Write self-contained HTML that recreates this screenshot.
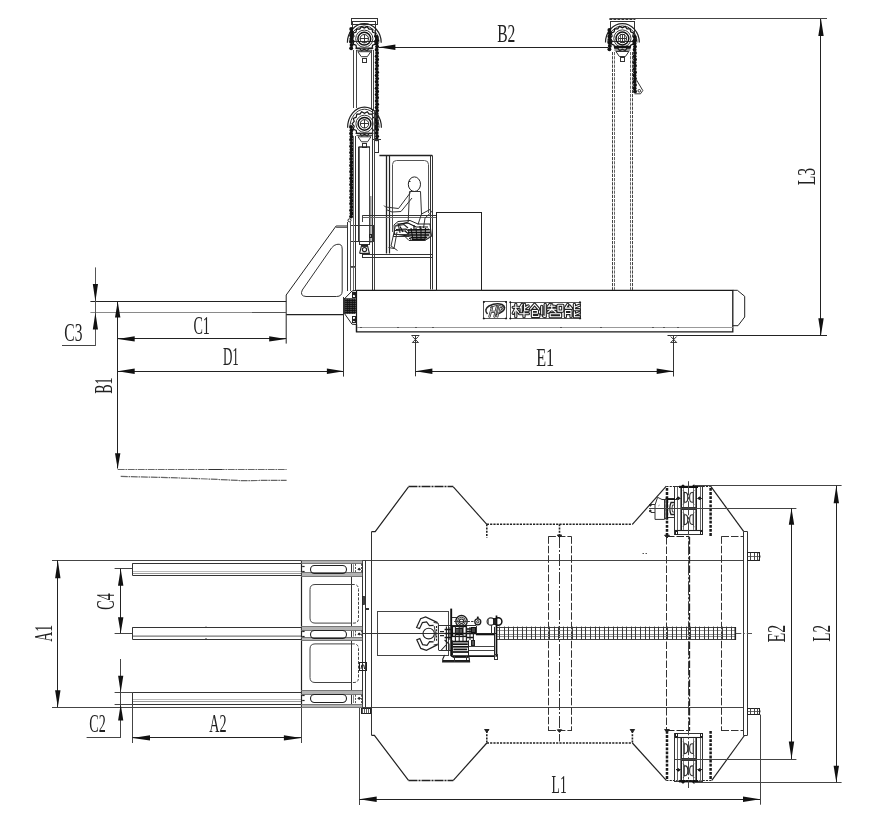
<!DOCTYPE html>
<html><head><meta charset="utf-8"><title>drawing</title>
<style>
html,body{margin:0;padding:0;background:#fff;}
body{width:873px;height:826px;overflow:hidden;font-family:"Liberation Serif",serif;}
svg{display:block;font-family:"Liberation Serif",serif;}
</style></head><body>
<svg width="873" height="826" viewBox="0 0 873 826">
<rect x="0" y="0" width="873" height="826" fill="#fff"/>
<g opacity="0.999">
<line x1="379.0" y1="47.5" x2="608.0" y2="47.5" stroke="#222" stroke-width="1"/>
<polygon points="378.4,47.2 395.4,44.5 395.4,49.9" fill="#111" stroke="none"/>
<text x="497.2" y="41.8" font-size="24.4" textLength="18.2" lengthAdjust="spacingAndGlyphs" fill="#222">B2</text>
<line x1="609.4" y1="18.5" x2="827.0" y2="18.5" stroke="#444" stroke-width="1"/>
<line x1="820.5" y1="19.0" x2="820.5" y2="335.3" stroke="#222" stroke-width="1"/>
<polygon points="821.0,19.0 818.3,36.0 823.7,36.0" fill="#111" stroke="none"/>
<polygon points="821.0,335.3 818.3,318.3 823.7,318.3" fill="#111" stroke="none"/>
<text transform="translate(814.5,185.2) rotate(-90)" x="0" y="0" font-size="24.4" textLength="17.4" lengthAdjust="spacingAndGlyphs" fill="#222">L3</text>
<line x1="667.5" y1="335.5" x2="827.0" y2="335.5" stroke="#222" stroke-width="1"/>
<line x1="353.5" y1="50.0" x2="353.5" y2="108.0" stroke="#444" stroke-width="1"/>
<line x1="356.5" y1="50.0" x2="356.5" y2="108.0" stroke="#444" stroke-width="1"/>
<line x1="371.5" y1="50.0" x2="371.5" y2="110.0" stroke="#444" stroke-width="1"/>
<line x1="373.5" y1="50.0" x2="373.5" y2="110.0" stroke="#444" stroke-width="1"/>
<rect x="351.5" y="18.5" width="26.0" height="6.0" fill="none" stroke="#333" stroke-width="1"/>
<rect x="352.5" y="21.5" width="23.0" height="20.0" fill="none" stroke="#333" stroke-width="1"/>
<path d="M347.4,42.7 A16.9,19.0 0 0 1 381.2,42.7" fill="none" stroke="#222" stroke-width="1.2" />
<path d="M349.7,42.7 A14.6,16.8 0 0 1 378.9,42.7" fill="none" stroke="#333" stroke-width="1" />
<polygon points="351.9,38.7 354.0,36.3 353.1,33.3 356.0,32.1 356.6,29.0 359.7,29.1 361.5,26.6 364.3,28.1 367.1,26.6 368.9,29.1 372.0,29.0 372.6,32.1 375.5,33.3 374.6,36.3 376.7,38.7 374.6,41.1 375.5,44.1 372.6,45.3 372.0,48.4 368.9,48.3 367.1,50.8 364.3,49.3 361.5,50.8 359.7,48.3 356.6,48.4 356.0,45.3 353.1,44.1 354.0,41.1 351.9,38.7" fill="none" stroke="#111" stroke-width="1.2"/>
<circle cx="364.3" cy="38.7" r="8.6" fill="none" stroke="#333" stroke-width="1.0"/>
<circle cx="364.3" cy="38.7" r="6.4" fill="none" stroke="#111" stroke-width="1.5"/>
<circle cx="364.3" cy="38.7" r="4.2" fill="none" stroke="#222" stroke-width="1.0"/>
<line x1="360.1" y1="38.5" x2="368.5" y2="38.5" stroke="#222" stroke-width="0.9"/>
<line x1="364.5" y1="34.5" x2="364.5" y2="42.9" stroke="#222" stroke-width="0.9"/>
<polyline points="355.3,48.2 373.3,48.2" fill="none" stroke="#222" stroke-width="1.2"/>
<polyline points="356.3,50.2 372.3,50.2" fill="none" stroke="#333" stroke-width="1"/>
<polyline points="357.8,51.7 361.3,56.7 367.3,56.7 370.8,51.7 357.8,51.7" fill="none" stroke="#333" stroke-width="1"/>
<rect x="362.5" y="58.5" width="4.0" height="4.0" fill="none" stroke="#333" stroke-width="1"/>
<circle cx="351.2" cy="29.0" r="1.95" fill="#111"/>
<circle cx="351.6" cy="32.2" r="1.95" fill="#111"/>
<circle cx="351.2" cy="35.4" r="1.95" fill="#111"/>
<circle cx="351.6" cy="38.6" r="1.95" fill="#111"/>
<circle cx="351.2" cy="41.8" r="1.95" fill="#111"/>
<circle cx="351.6" cy="45.0" r="1.95" fill="#111"/>
<circle cx="351.2" cy="48.2" r="1.95" fill="#111"/>
<circle cx="376.7" cy="37.0" r="1.95" fill="#111"/>
<circle cx="377.1" cy="40.2" r="1.95" fill="#111"/>
<circle cx="376.7" cy="43.4" r="1.95" fill="#111"/>
<circle cx="377.1" cy="46.6" r="1.95" fill="#111"/>
<circle cx="376.7" cy="49.8" r="1.95" fill="#111"/>
<circle cx="377.1" cy="53.0" r="1.95" fill="#111"/>
<circle cx="376.7" cy="56.2" r="1.95" fill="#111"/>
<circle cx="377.1" cy="59.4" r="1.95" fill="#111"/>
<circle cx="376.7" cy="62.6" r="1.95" fill="#111"/>
<circle cx="377.1" cy="65.8" r="1.95" fill="#111"/>
<circle cx="376.7" cy="69.0" r="1.95" fill="#111"/>
<circle cx="377.1" cy="72.2" r="1.95" fill="#111"/>
<circle cx="376.7" cy="75.4" r="1.95" fill="#111"/>
<circle cx="377.1" cy="78.6" r="1.95" fill="#111"/>
<circle cx="376.7" cy="81.8" r="1.95" fill="#111"/>
<circle cx="377.1" cy="85.0" r="1.95" fill="#111"/>
<circle cx="376.7" cy="88.2" r="1.95" fill="#111"/>
<circle cx="377.1" cy="91.4" r="1.95" fill="#111"/>
<circle cx="376.7" cy="94.6" r="1.95" fill="#111"/>
<circle cx="377.1" cy="97.8" r="1.95" fill="#111"/>
<circle cx="376.7" cy="101.0" r="1.95" fill="#111"/>
<circle cx="377.1" cy="104.2" r="1.95" fill="#111"/>
<circle cx="376.7" cy="107.4" r="1.95" fill="#111"/>
<circle cx="377.1" cy="110.6" r="1.95" fill="#111"/>
<circle cx="376.7" cy="113.8" r="1.95" fill="#111"/>
<circle cx="377.1" cy="117.0" r="1.95" fill="#111"/>
<circle cx="376.7" cy="120.2" r="1.95" fill="#111"/>
<circle cx="377.1" cy="123.4" r="1.95" fill="#111"/>
<circle cx="376.7" cy="126.6" r="1.95" fill="#111"/>
<circle cx="377.1" cy="129.8" r="1.95" fill="#111"/>
<circle cx="376.7" cy="133.0" r="1.95" fill="#111"/>
<circle cx="377.1" cy="136.2" r="1.95" fill="#111"/>
<circle cx="376.7" cy="139.4" r="1.95" fill="#111"/>
<path d="M347.6,127.8 A16.9,20.8 0 0 1 381.4,127.8" fill="none" stroke="#222" stroke-width="1.2" />
<path d="M349.9,127.8 A14.6,18.6 0 0 1 379.1,127.8" fill="none" stroke="#333" stroke-width="1" />
<polygon points="352.1,123.8 354.2,121.4 353.3,118.4 356.2,117.2 356.8,114.1 359.9,114.2 361.7,111.7 364.5,113.2 367.3,111.7 369.1,114.2 372.2,114.1 372.8,117.2 375.7,118.4 374.8,121.4 376.9,123.8 374.8,126.2 375.7,129.2 372.8,130.4 372.2,133.5 369.1,133.4 367.3,135.9 364.5,134.4 361.7,135.9 359.9,133.4 356.8,133.5 356.2,130.4 353.3,129.2 354.2,126.2 352.1,123.8" fill="none" stroke="#111" stroke-width="1.2"/>
<circle cx="364.5" cy="123.8" r="8.6" fill="none" stroke="#333" stroke-width="1.0"/>
<circle cx="364.5" cy="123.8" r="6.4" fill="none" stroke="#111" stroke-width="1.5"/>
<circle cx="364.5" cy="123.8" r="4.2" fill="none" stroke="#222" stroke-width="1.0"/>
<line x1="360.3" y1="123.5" x2="368.7" y2="123.5" stroke="#222" stroke-width="0.9"/>
<line x1="364.5" y1="119.6" x2="364.5" y2="128.0" stroke="#222" stroke-width="0.9"/>
<polyline points="355.5,133.3 373.5,133.3" fill="none" stroke="#222" stroke-width="1.2"/>
<polyline points="356.5,135.3 372.5,135.3" fill="none" stroke="#333" stroke-width="1"/>
<polyline points="358.0,136.8 361.5,141.8 367.5,141.8 371.0,136.8 358.0,136.8" fill="none" stroke="#333" stroke-width="1"/>
<rect x="362.5" y="143.5" width="4.0" height="4.0" fill="none" stroke="#333" stroke-width="1"/>
<circle cx="351.1" cy="127.0" r="1.95" fill="#111"/>
<circle cx="351.5" cy="130.2" r="1.95" fill="#111"/>
<circle cx="351.1" cy="133.4" r="1.95" fill="#111"/>
<circle cx="351.5" cy="136.6" r="1.95" fill="#111"/>
<circle cx="351.1" cy="139.8" r="1.95" fill="#111"/>
<circle cx="351.5" cy="143.0" r="1.95" fill="#111"/>
<circle cx="351.1" cy="146.2" r="1.95" fill="#111"/>
<circle cx="351.5" cy="149.4" r="1.95" fill="#111"/>
<circle cx="351.1" cy="152.6" r="1.95" fill="#111"/>
<circle cx="351.5" cy="155.8" r="1.95" fill="#111"/>
<circle cx="351.1" cy="159.0" r="1.95" fill="#111"/>
<circle cx="351.5" cy="162.2" r="1.95" fill="#111"/>
<circle cx="351.1" cy="165.4" r="1.95" fill="#111"/>
<circle cx="351.5" cy="168.6" r="1.95" fill="#111"/>
<circle cx="351.1" cy="171.8" r="1.95" fill="#111"/>
<circle cx="351.5" cy="175.0" r="1.95" fill="#111"/>
<circle cx="351.1" cy="178.2" r="1.95" fill="#111"/>
<circle cx="351.5" cy="181.4" r="1.95" fill="#111"/>
<circle cx="351.1" cy="184.6" r="1.95" fill="#111"/>
<circle cx="351.5" cy="187.8" r="1.95" fill="#111"/>
<circle cx="351.1" cy="191.0" r="1.95" fill="#111"/>
<circle cx="351.5" cy="194.2" r="1.95" fill="#111"/>
<circle cx="351.1" cy="197.4" r="1.95" fill="#111"/>
<circle cx="351.5" cy="200.6" r="1.95" fill="#111"/>
<circle cx="351.1" cy="203.8" r="1.95" fill="#111"/>
<circle cx="351.5" cy="207.0" r="1.95" fill="#111"/>
<circle cx="351.1" cy="210.2" r="1.95" fill="#111"/>
<circle cx="351.5" cy="213.4" r="1.95" fill="#111"/>
<circle cx="351.1" cy="216.6" r="1.95" fill="#111"/>
<rect x="374.5" y="140.5" width="4.0" height="12.0" fill="none" stroke="#333" stroke-width="1"/>
<line x1="372.0" y1="139.5" x2="381.0" y2="139.5" stroke="#333" stroke-width="1"/>
<line x1="358.5" y1="147.0" x2="358.5" y2="241.5" stroke="#333" stroke-width="1"/>
<line x1="359.5" y1="147.0" x2="359.5" y2="241.5" stroke="#666" stroke-width="1"/>
<line x1="369.5" y1="147.0" x2="369.5" y2="241.5" stroke="#444" stroke-width="1"/>
<line x1="358.5" y1="147.0" x2="370.0" y2="147.0" stroke="#222" stroke-width="1.4"/>
<line x1="370.8" y1="196.0" x2="370.8" y2="243.0" stroke="#999" stroke-width="1.6"/>
<line x1="372.5" y1="110.0" x2="372.5" y2="290.0" stroke="#333" stroke-width="1"/>
<line x1="374.5" y1="110.0" x2="374.5" y2="290.0" stroke="#444" stroke-width="1"/>
<rect x="359.5" y="241.5" width="10.0" height="3.0" fill="none" stroke="#333" stroke-width="1"/>
<polyline points="359.6,253.4 361.6,245.4 367.4,245.4 369.4,253.4 359.6,253.4" fill="none" stroke="#222" stroke-width="1.1"/>
<circle cx="364.5" cy="249.6" r="2.1" fill="none" stroke="#222" stroke-width="1.2"/>
<line x1="362.0" y1="246.5" x2="367.0" y2="246.5" stroke="#333" stroke-width="1"/>
<rect x="350.5" y="225.5" width="23.0" height="16.0" fill="none" stroke="#333" stroke-width="1"/>
<rect x="369.5" y="234.5" width="2.0" height="3.0" fill="none" stroke="#222" stroke-width="1"/>
<line x1="347.5" y1="222.0" x2="347.5" y2="291.0" stroke="#333" stroke-width="1"/>
<line x1="350.5" y1="222.0" x2="350.5" y2="291.0" stroke="#555" stroke-width="1"/>
<line x1="353.5" y1="136.0" x2="353.5" y2="291.0" stroke="#666" stroke-width="1"/>
<line x1="355.5" y1="136.0" x2="355.5" y2="291.0" stroke="#333" stroke-width="1"/>
<line x1="350.6" y1="266.5" x2="355.7" y2="266.5" stroke="#444" stroke-width="1"/>
<line x1="350.6" y1="267.5" x2="355.7" y2="267.5" stroke="#666" stroke-width="1"/>
<circle cx="349.5" cy="220.3" r="1.5" fill="none" stroke="#222" stroke-width="1"/>
<polyline points="347.0,226.0 336.1,226.0 286.2,295.0 286.2,343.6" fill="none" stroke="#222" stroke-width="1"/>
<line x1="336.1" y1="227.5" x2="347.0" y2="227.5" stroke="#666" stroke-width="1"/>
<line x1="343.5" y1="297.0" x2="343.5" y2="314.6" stroke="#333" stroke-width="1"/>
<line x1="286.2" y1="314.6" x2="343.9" y2="314.6" stroke="#222" stroke-width="1.4"/>
<path d="M336.8,244.4 Q342.2,243.2 342.2,249 L342.2,291 Q342.2,296.5 336.5,296.5 L306,296.5 Q299.5,296 302.3,290 L331.5,248 Q334,244.8 336.8,244.4 Z" fill="none" stroke="#333" stroke-width="1" />
<line x1="90.4" y1="301.5" x2="286.2" y2="301.5" stroke="#222" stroke-width="1"/>
<line x1="90.4" y1="312.5" x2="286.2" y2="312.5" stroke="#8a8a8a" stroke-width="1"/>
<line x1="252.0" y1="312.5" x2="286.2" y2="312.5" stroke="#555" stroke-width="1"/>
<polyline points="356.5,290.3 732.8,290.3 732.8,331.9 356.5,331.9 356.5,324.5" fill="none" stroke="#1a1a1a" stroke-width="1.3"/>
<line x1="356.5" y1="290.3" x2="356.5" y2="331.9" stroke="#1a1a1a" stroke-width="1.2"/>
<line x1="357.0" y1="327.5" x2="732.8" y2="327.5" stroke="#999" stroke-width="1"/>
<line x1="360.0" y1="327.5" x2="362.0" y2="327.5" stroke="#555" stroke-width="1"/>
<line x1="397.0" y1="327.5" x2="399.0" y2="327.5" stroke="#555" stroke-width="1"/>
<line x1="415.0" y1="327.5" x2="417.0" y2="327.5" stroke="#555" stroke-width="1"/>
<line x1="432.0" y1="327.5" x2="434.0" y2="327.5" stroke="#555" stroke-width="1"/>
<line x1="560.0" y1="327.5" x2="562.0" y2="327.5" stroke="#555" stroke-width="1"/>
<line x1="600.0" y1="327.5" x2="602.0" y2="327.5" stroke="#555" stroke-width="1"/>
<line x1="652.0" y1="327.5" x2="654.0" y2="327.5" stroke="#555" stroke-width="1"/>
<line x1="663.0" y1="327.5" x2="665.0" y2="327.5" stroke="#555" stroke-width="1"/>
<line x1="677.0" y1="327.5" x2="679.0" y2="327.5" stroke="#555" stroke-width="1"/>
<polyline points="356.5,290.3 352.0,291.0 344.8,298.4 344.8,314.0 352.0,324.2 356.5,324.5" fill="none" stroke="#222" stroke-width="1"/>
<rect x="344.5" y="298.5" width="11.0" height="15.0" fill="#444" stroke="#111" stroke-width="0.5"/>
<line x1="345.0" y1="300.5" x2="355.8" y2="300.5" stroke="#111" stroke-width="0.9"/>
<line x1="345.0" y1="302.5" x2="355.8" y2="302.5" stroke="#111" stroke-width="0.9"/>
<line x1="345.0" y1="304.5" x2="355.8" y2="304.5" stroke="#111" stroke-width="0.9"/>
<line x1="345.0" y1="306.5" x2="355.8" y2="306.5" stroke="#111" stroke-width="0.9"/>
<line x1="345.0" y1="308.5" x2="355.8" y2="308.5" stroke="#111" stroke-width="0.9"/>
<line x1="345.0" y1="310.5" x2="355.8" y2="310.5" stroke="#111" stroke-width="0.9"/>
<line x1="345.0" y1="312.5" x2="355.8" y2="312.5" stroke="#111" stroke-width="0.9"/>
<line x1="347.5" y1="299.0" x2="347.5" y2="313.6" stroke="#111" stroke-width="0.7"/>
<line x1="349.5" y1="299.0" x2="349.5" y2="313.6" stroke="#111" stroke-width="0.7"/>
<line x1="352.5" y1="299.0" x2="352.5" y2="313.6" stroke="#111" stroke-width="0.7"/>
<line x1="354.5" y1="299.0" x2="354.5" y2="313.6" stroke="#111" stroke-width="0.7"/>
<rect x="352.5" y="292.5" width="3.0" height="5.0" fill="none" stroke="#222" stroke-width="1"/>
<rect x="352.5" y="316.5" width="3.0" height="6.0" fill="none" stroke="#222" stroke-width="1"/>
<circle cx="354.2" cy="294.0" r="0.9" fill="#111" stroke="#111" stroke-width="1"/>
<circle cx="354.2" cy="320.0" r="0.9" fill="#111" stroke="#111" stroke-width="1"/>
<polyline points="732.8,290.3 737.4,290.3 744.7,296.3 744.7,317.0 738.0,325.7 732.8,325.7" fill="none" stroke="#222" stroke-width="1"/>
<line x1="411.4" y1="335.5" x2="419.4" y2="335.5" stroke="#333" stroke-width="1"/>
<polyline points="412.4,336.5 418.4,342.5" fill="none" stroke="#333" stroke-width="1"/>
<polyline points="418.4,336.5 412.4,342.5" fill="none" stroke="#333" stroke-width="1"/>
<line x1="412.2" y1="342.5" x2="418.6" y2="342.5" stroke="#444" stroke-width="1"/>
<line x1="669.7" y1="335.5" x2="677.7" y2="335.5" stroke="#333" stroke-width="1"/>
<polyline points="670.7,336.5 676.7,342.5" fill="none" stroke="#333" stroke-width="1"/>
<polyline points="676.7,336.5 670.7,342.5" fill="none" stroke="#333" stroke-width="1"/>
<line x1="670.5" y1="342.5" x2="676.9" y2="342.5" stroke="#444" stroke-width="1"/>
<line x1="415.5" y1="336.0" x2="415.5" y2="376.3" stroke="#333" stroke-width="1"/>
<line x1="673.5" y1="336.0" x2="673.5" y2="376.5" stroke="#333" stroke-width="1"/>
<line x1="415.4" y1="371.5" x2="673.7" y2="371.5" stroke="#222" stroke-width="1"/>
<polygon points="415.4,371.3 432.4,368.6 432.4,374.0" fill="#111" stroke="none"/>
<polygon points="673.7,371.3 656.7,368.6 656.7,374.0" fill="#111" stroke="none"/>
<text x="536.2" y="365.5" font-size="24.4" textLength="18.0" lengthAdjust="spacingAndGlyphs" fill="#222">E1</text>
<line x1="117.7" y1="338.5" x2="286.2" y2="338.5" stroke="#222" stroke-width="1"/>
<polygon points="117.7,338.9 134.7,336.2 134.7,341.6" fill="#111" stroke="none"/>
<polygon points="286.2,338.9 269.2,336.2 269.2,341.6" fill="#111" stroke="none"/>
<text x="193.4" y="333.6" font-size="24.4" textLength="16.5" lengthAdjust="spacingAndGlyphs" fill="#222">C1</text>
<line x1="117.7" y1="371.5" x2="343.9" y2="371.5" stroke="#222" stroke-width="1"/>
<polygon points="117.7,371.2 134.7,368.5 134.7,373.9" fill="#111" stroke="none"/>
<polygon points="343.9,371.2 326.9,368.5 326.9,373.9" fill="#111" stroke="none"/>
<line x1="343.5" y1="314.6" x2="343.5" y2="376.6" stroke="#333" stroke-width="1"/>
<text x="222.9" y="365.3" font-size="24.4" textLength="15.9" lengthAdjust="spacingAndGlyphs" fill="#222">D1</text>
<line x1="117.5" y1="301.5" x2="117.5" y2="468.5" stroke="#222" stroke-width="1"/>
<polygon points="117.7,301.5 115.0,317.5 120.4,317.5" fill="#111" stroke="none"/>
<polygon points="117.7,468.8 115.0,453.3 120.4,453.3" fill="#111" stroke="none"/>
<text transform="translate(111.6,393.8) rotate(-90)" x="0" y="0" font-size="24.4" textLength="16.3" lengthAdjust="spacingAndGlyphs" fill="#222">B1</text>
<line x1="95.5" y1="267.4" x2="95.5" y2="345.9" stroke="#555" stroke-width="1"/>
<polygon points="95.4,301.5 92.8,284.0 98.0,284.0" fill="#111" stroke="none"/>
<polygon points="95.4,312.4 92.8,329.6 98.0,329.6" fill="#111" stroke="none"/>
<line x1="62.0" y1="345.5" x2="95.4" y2="345.5" stroke="#444" stroke-width="1"/>
<text x="64.3" y="341.1" font-size="24.4" textLength="18.1" lengthAdjust="spacingAndGlyphs" fill="#222">C3</text>
<line x1="117.7" y1="469.5" x2="286.6" y2="469.5" stroke="#666" stroke-width="1.1" stroke-dasharray="7,0.7,1.6,0.7"/>
<line x1="209.0" y1="469.5" x2="222.0" y2="469.5" stroke="#333" stroke-width="1"/>
<path d="M120.7,476.4 Q200,478.2 240,480.6 L286.6,480.3" fill="none" stroke="#666" stroke-width="1.2" stroke-dasharray="7,0.7,1.6,0.7" />
<line x1="612.5" y1="52.0" x2="612.5" y2="290.0" stroke="#444" stroke-width="1" stroke-dasharray="3.2,1"/>
<line x1="614.5" y1="52.0" x2="614.5" y2="290.0" stroke="#666" stroke-width="1" stroke-dasharray="3.2,1"/>
<line x1="630.5" y1="52.0" x2="630.5" y2="290.0" stroke="#666" stroke-width="1" stroke-dasharray="3.2,1"/>
<line x1="632.5" y1="52.0" x2="632.5" y2="290.0" stroke="#444" stroke-width="1" stroke-dasharray="3.2,1"/>
<line x1="609.4" y1="19.5" x2="635.4" y2="19.5" stroke="#333" stroke-width="1" stroke-dasharray="3,1"/>
<rect x="610.5" y="21.5" width="24.0" height="20.0" fill="none" stroke="#333" stroke-width="1"/>
<path d="M605.5,42.5 A16.9,18.8 0 0 1 639.3,42.5" fill="none" stroke="#222" stroke-width="1.2" />
<path d="M607.8,42.5 A14.6,16.6 0 0 1 637.0,42.5" fill="none" stroke="#333" stroke-width="1" />
<polygon points="610.0,38.5 612.1,36.1 611.2,33.1 614.1,31.9 614.7,28.8 617.8,28.9 619.6,26.4 622.4,27.9 625.2,26.4 627.0,28.9 630.1,28.8 630.7,31.9 633.6,33.1 632.7,36.1 634.8,38.5 632.7,40.9 633.6,43.9 630.7,45.1 630.1,48.2 627.0,48.1 625.2,50.6 622.4,49.1 619.6,50.6 617.8,48.1 614.7,48.2 614.1,45.1 611.2,43.9 612.1,40.9 610.0,38.5" fill="none" stroke="#111" stroke-width="1.2"/>
<circle cx="622.4" cy="38.5" r="8.6" fill="none" stroke="#333" stroke-width="1.0"/>
<circle cx="622.4" cy="38.5" r="6.4" fill="none" stroke="#111" stroke-width="1.5"/>
<circle cx="622.4" cy="38.5" r="4.2" fill="none" stroke="#222" stroke-width="1.0"/>
<line x1="618.2" y1="38.5" x2="626.6" y2="38.5" stroke="#222" stroke-width="0.9"/>
<line x1="622.5" y1="34.3" x2="622.5" y2="42.7" stroke="#222" stroke-width="0.9"/>
<line x1="620.5" y1="34.0" x2="620.5" y2="43.0" stroke="#333" stroke-width="0.8"/>
<line x1="624.5" y1="34.0" x2="624.5" y2="43.0" stroke="#333" stroke-width="0.8"/>
<line x1="614.4" y1="47.0" x2="630.4" y2="47.0" stroke="#111" stroke-width="2.6"/>
<polyline points="614.4,50.0 630.4,50.0" fill="none" stroke="#333" stroke-width="1"/>
<polyline points="615.9,51.5 619.4,56.5 625.4,56.5 628.9,51.5 615.9,51.5" fill="none" stroke="#333" stroke-width="1"/>
<rect x="620.5" y="57.5" width="4.0" height="4.0" fill="none" stroke="#333" stroke-width="1"/>
<circle cx="609.4" cy="30.0" r="1.95" fill="#111"/>
<circle cx="609.8" cy="33.2" r="1.95" fill="#111"/>
<circle cx="609.4" cy="36.4" r="1.95" fill="#111"/>
<circle cx="609.8" cy="39.6" r="1.95" fill="#111"/>
<circle cx="609.4" cy="42.8" r="1.95" fill="#111"/>
<circle cx="609.8" cy="46.0" r="1.95" fill="#111"/>
<circle cx="609.4" cy="49.2" r="1.95" fill="#111"/>
<circle cx="634.6" cy="37.0" r="1.95" fill="#111"/>
<circle cx="635.0" cy="40.2" r="1.95" fill="#111"/>
<circle cx="634.6" cy="43.4" r="1.95" fill="#111"/>
<circle cx="635.0" cy="46.6" r="1.95" fill="#111"/>
<circle cx="634.6" cy="49.8" r="1.95" fill="#111"/>
<circle cx="635.0" cy="53.0" r="1.95" fill="#111"/>
<circle cx="634.6" cy="56.2" r="1.95" fill="#111"/>
<circle cx="635.0" cy="59.4" r="1.95" fill="#111"/>
<circle cx="634.6" cy="62.6" r="1.95" fill="#111"/>
<circle cx="635.0" cy="65.8" r="1.95" fill="#111"/>
<circle cx="634.6" cy="69.0" r="1.95" fill="#111"/>
<circle cx="635.0" cy="72.2" r="1.95" fill="#111"/>
<circle cx="634.6" cy="75.4" r="1.95" fill="#111"/>
<circle cx="635.0" cy="78.6" r="1.95" fill="#111"/>
<circle cx="634.6" cy="81.8" r="1.95" fill="#111"/>
<circle cx="635.0" cy="85.0" r="1.95" fill="#111"/>
<circle cx="634.6" cy="88.2" r="1.95" fill="#111"/>
<circle cx="635.0" cy="91.4" r="1.95" fill="#111"/>
<polyline points="636.5,80.0 642.8,90.5 640.5,93.8 634.5,93.8" fill="none" stroke="#333" stroke-width="1"/>
<circle cx="639.3" cy="90.8" r="1.3" fill="none" stroke="#333" stroke-width="1"/>
<line x1="379.4" y1="155.5" x2="432.3" y2="155.5" stroke="#222" stroke-width="1.3"/>
<line x1="386.5" y1="155.4" x2="386.5" y2="253.5" stroke="#222" stroke-width="1.3"/>
<line x1="389.5" y1="155.4" x2="389.5" y2="253.5" stroke="#222" stroke-width="1.2"/>
<line x1="430.5" y1="155.4" x2="430.5" y2="289.5" stroke="#333" stroke-width="1"/>
<line x1="432.5" y1="155.4" x2="432.5" y2="289.5" stroke="#333" stroke-width="1"/>
<path d="M392.5,232 L392.5,164.5 Q392.5,160.5 396.5,160.5 L424.5,160.5 Q428.5,160.5 428.5,164.5 L428.5,213" fill="none" stroke="#555" stroke-width="1" />
<line x1="363.0" y1="215.5" x2="436.0" y2="215.5" stroke="#333" stroke-width="1"/>
<line x1="363.0" y1="217.5" x2="436.0" y2="217.5" stroke="#666" stroke-width="1"/>
<line x1="362.5" y1="215.1" x2="362.5" y2="222.0" stroke="#444" stroke-width="1"/>
<rect x="362.5" y="254.5" width="70.0" height="3.0" fill="none" stroke="#333" stroke-width="1"/>
<rect x="436.5" y="212.5" width="45.0" height="78.0" fill="none" stroke="#222" stroke-width="1"/>
<ellipse cx="414.4" cy="184.2" rx="6.1" ry="7.3" fill="none" stroke="#222" stroke-width="1"/>
<line x1="409.0" y1="181.5" x2="410.5" y2="181.5" stroke="#222" stroke-width="1"/>
<path d="M409.5,191.5 L420.5,191.5 L421.5,214 L418,224.5 M409.5,191.5 L408.2,222" fill="none" stroke="#333" stroke-width="1" />
<path d="M410.5,192.5 L398.5,208.5 L385.5,207 L384,205.5 M412,198 L401,211.5 L392,212 L386,209.5" fill="none" stroke="#333" stroke-width="1" />
<path d="M408.2,222 L395.5,225.5 L391,246 L397.5,250.5 M397,232 L394,248.5 L388.5,247.5" fill="none" stroke="#333" stroke-width="1" />
<path d="M421.5,214 L430,209.5 L431.5,212 L425,218 L423.5,228" fill="none" stroke="#333" stroke-width="1" />
<path d="M394,225 L398,221.5 L410,220.5 L418,224 L430,224 L431.5,236.5 L424.5,240.5 L409,240.5 L404,235.5 L394.5,234 Z" fill="none" stroke="#222" stroke-width="1" />
<path d="M399,224 L408,223 L416,227 L428,227 M396,229.5 L406,229 L412,233 L430,232.5 M404,235.5 L424,236.5 M409,238.5 L425,238.5" fill="none" stroke="#111" stroke-width="1.1" />
<path d="M405,231 L411,236 L423,236 L429,229 M400,226.5 L403,232 M414,225 L414,236 M420,226 L421,238" fill="none" stroke="#111" stroke-width="1.2" />
<rect x="393.5" y="234.5" width="15.0" height="2.0" fill="none" stroke="#333" stroke-width="1"/>
<path d="M408,230 L430,229.5 L431,236 L425,240.5 L411,240.5 Z" fill="#bbb" stroke="#222" stroke-width="0.8" />
<path d="M408,230 L429,229.5 M408,232.5 L430,232.5 M410,235 L429,235 M411,237.5 L427,237.5 M412,239.5 L425,239.5" fill="none" stroke="#111" stroke-width="1.3" />
<path d="M411,228 L413,240 M416,228 L417,240 M421,228 L421,240 M425.5,228 L425,240" fill="none" stroke="#111" stroke-width="1.1" />
<path d="M396,226 L404,224.5 L408,228 M395,230.5 L406,231 M398,223 L400,233" fill="none" stroke="#222" stroke-width="1.1" />
<rect x="483.5" y="301.5" width="23.0" height="17.0" fill="none" stroke="#555" stroke-width="1"/>
<circle cx="483.9" cy="302.0" r="0.7" fill="#111" stroke="#111" stroke-width="0.6"/>
<circle cx="506.0" cy="302.0" r="0.7" fill="#111" stroke="#111" stroke-width="0.6"/>
<circle cx="483.9" cy="318.5" r="0.7" fill="#111" stroke="#111" stroke-width="0.6"/>
<circle cx="506.0" cy="318.5" r="0.7" fill="#111" stroke="#111" stroke-width="0.6"/>
<path d="M487.5,314 Q483.5,309.5 489,306 Q496,302.5 502,304.5 Q507,307 502.5,311.5 Q499,314.5 494,315" fill="none" stroke="#222" stroke-width="1.5" />
<path d="M490,307.5 Q496,304.5 500.5,306 Q503.5,308 500,311" fill="none" stroke="#444" stroke-width="1" />
<path d="M492,307.5 L489.5,316.5 M497,306.5 L494.5,316.5 M490.8,311.8 L495.8,311.8" fill="none" stroke="#222" stroke-width="2.3" stroke-linecap="round" stroke-linejoin="round"/>
<path d="M492,307.5 L489.5,316.5 M497,306.5 L494.5,316.5 M490.8,311.8 L495.8,311.8" fill="none" stroke="#fff" stroke-width="0.7" stroke-linecap="round" stroke-linejoin="round"/>
<path d="M499.5,306.5 L497.3,316.5 M499.5,306.5 Q504.5,306.5 503,309.5 Q501.5,311.5 498.5,311.3" fill="none" stroke="#222" stroke-width="2.2" stroke-linecap="round" stroke-linejoin="round"/>
<path d="M499.5,306.5 L497.3,316.5 M499.5,306.5 Q504.5,306.5 503,309.5 Q501.5,311.5 498.5,311.3" fill="none" stroke="#fff" stroke-width="0.7" stroke-linecap="round" stroke-linejoin="round"/>
<rect x="510.5" y="302.5" width="70.0" height="16.0" fill="none" stroke="#555" stroke-width="1"/>
<circle cx="510.3" cy="302.3" r="0.7" fill="#111" stroke="#111" stroke-width="0.6"/>
<circle cx="580.0" cy="302.3" r="0.7" fill="#111" stroke="#111" stroke-width="0.6"/>
<circle cx="510.3" cy="318.5" r="0.7" fill="#111" stroke="#111" stroke-width="0.6"/>
<circle cx="580.0" cy="318.5" r="0.7" fill="#111" stroke="#111" stroke-width="0.6"/>
<path d="M513.2,307.3 L518.4,307.3 M515.8,304.3 L515.8,316.7 M515.8,308.3 L513.2,313.3 M515.8,308.8 L518.6,312.3 M522.2,304.3 L520.0,307.9 M521.2,306.9 L521.2,311.7 M524.6,304.3 L524.6,310.7 L528.2,310.7 M528.2,305.9 L524.6,308.3 M519.6,313.7 L528.4,313.7 M524.0,311.7 L524.0,316.7 " fill="none" stroke="#222" stroke-width="3.3" stroke-linecap="round" stroke-linejoin="round"/>
<path d="M513.2,307.3 L518.4,307.3 M515.8,304.3 L515.8,316.7 M515.8,308.3 L513.2,313.3 M515.8,308.8 L518.6,312.3 M522.2,304.3 L520.0,307.9 M521.2,306.9 L521.2,311.7 M524.6,304.3 L524.6,310.7 L528.2,310.7 M528.2,305.9 L524.6,308.3 M519.6,313.7 L528.4,313.7 M524.0,311.7 L524.0,316.7 " fill="none" stroke="#fff" stroke-width="1.1" stroke-linecap="round" stroke-linejoin="round"/>
<path d="M534.6,304.3 L530.4,309.1 M534.6,304.3 L538.8,309.1 M532.4,310.5 L537.4,310.5 L537.4,313.3 L532.4,313.3 M532.4,310.5 L532.4,316.5 L538.8,316.5 L538.8,314.7 M541.7,306.3 L541.7,313.9 M545.2,304.3 L545.2,316.7 L543.4,315.9 " fill="none" stroke="#222" stroke-width="3.3" stroke-linecap="round" stroke-linejoin="round"/>
<path d="M534.6,304.3 L530.4,309.1 M534.6,304.3 L538.8,309.1 M532.4,310.5 L537.4,310.5 L537.4,313.3 L532.4,313.3 M532.4,310.5 L532.4,316.5 L538.8,316.5 L538.8,314.7 M541.7,306.3 L541.7,313.9 M545.2,304.3 L545.2,316.7 L543.4,315.9 " fill="none" stroke="#fff" stroke-width="1.1" stroke-linecap="round" stroke-linejoin="round"/>
<path d="M550.0,304.3 L548.0,306.9 M549.0,306.3 L555.0,306.3 M547.6,309.3 L556.0,309.3 M551.8,304.7 L551.8,309.3 L548.0,312.3 M551.8,309.3 L555.8,312.3 M558.0,305.3 L562.8,305.3 L562.8,311.1 L558.0,311.1 L558.0,305.3 M550.2,313.7 L560.6,313.7 L560.6,316.7 L550.2,316.7 L550.2,313.7 " fill="none" stroke="#222" stroke-width="3.3" stroke-linecap="round" stroke-linejoin="round"/>
<path d="M550.0,304.3 L548.0,306.9 M549.0,306.3 L555.0,306.3 M547.6,309.3 L556.0,309.3 M551.8,304.7 L551.8,309.3 L548.0,312.3 M551.8,309.3 L555.8,312.3 M558.0,305.3 L562.8,305.3 L562.8,311.1 L558.0,311.1 L558.0,305.3 M550.2,313.7 L560.6,313.7 L560.6,316.7 L550.2,316.7 L550.2,313.7 " fill="none" stroke="#fff" stroke-width="1.1" stroke-linecap="round" stroke-linejoin="round"/>
<path d="M567.8,304.3 L565.4,308.1 L571.4,308.1 M569.6,306.1 L571.4,308.5 M565.4,310.5 L571.0,310.5 L571.0,316.7 M565.4,310.5 L565.4,316.7 M565.4,313.5 L571.0,313.5 M574.4,304.3 L574.4,309.7 L579.4,309.7 M579.4,305.3 L574.4,307.3 M574.4,311.7 L574.4,316.7 L579.4,316.7 M579.4,312.7 L574.4,314.7 " fill="none" stroke="#222" stroke-width="3.3" stroke-linecap="round" stroke-linejoin="round"/>
<path d="M567.8,304.3 L565.4,308.1 L571.4,308.1 M569.6,306.1 L571.4,308.5 M565.4,310.5 L571.0,310.5 L571.0,316.7 M565.4,310.5 L565.4,316.7 M565.4,313.5 L571.0,313.5 M574.4,304.3 L574.4,309.7 L579.4,309.7 M579.4,305.3 L574.4,307.3 M574.4,311.7 L574.4,316.7 L579.4,316.7 M579.4,312.7 L574.4,314.7 " fill="none" stroke="#fff" stroke-width="1.1" stroke-linecap="round" stroke-linejoin="round"/>
<line x1="52.0" y1="560.5" x2="743.6" y2="560.5" stroke="#444" stroke-width="1"/>
<line x1="52.0" y1="707.5" x2="743.6" y2="707.5" stroke="#444" stroke-width="1"/>
<line x1="57.5" y1="560.3" x2="57.5" y2="707.2" stroke="#222" stroke-width="1"/>
<polygon points="57.8,560.3 55.1,578.3 60.5,578.3" fill="#111" stroke="none"/>
<polygon points="57.8,707.2 55.1,690.2 60.5,690.2" fill="#111" stroke="none"/>
<text transform="translate(52.2,641.7) rotate(-90)" x="0" y="0" font-size="24.4" textLength="16.9" lengthAdjust="spacingAndGlyphs" fill="#222">A1</text>
<line x1="132.4" y1="563.5" x2="301.2" y2="563.5" stroke="#333" stroke-width="1"/>
<line x1="132.4" y1="575.5" x2="301.2" y2="575.5" stroke="#333" stroke-width="1"/>
<line x1="132.5" y1="563.4" x2="132.5" y2="575.3" stroke="#333" stroke-width="1"/>
<line x1="133.0" y1="573.5" x2="301.2" y2="573.5" stroke="#999" stroke-width="1"/>
<line x1="133.0" y1="571.5" x2="301.2" y2="571.5" stroke="#bbb" stroke-width="1"/>
<line x1="132.4" y1="627.5" x2="301.2" y2="627.5" stroke="#333" stroke-width="1"/>
<line x1="132.4" y1="639.5" x2="301.2" y2="639.5" stroke="#333" stroke-width="1"/>
<line x1="132.5" y1="627.4" x2="132.5" y2="639.3" stroke="#333" stroke-width="1"/>
<line x1="133.0" y1="636.5" x2="301.2" y2="636.5" stroke="#999" stroke-width="1"/>
<line x1="133.0" y1="635.5" x2="301.2" y2="635.5" stroke="#bbb" stroke-width="1"/>
<line x1="132.4" y1="692.5" x2="301.2" y2="692.5" stroke="#333" stroke-width="1"/>
<line x1="132.4" y1="704.5" x2="301.2" y2="704.5" stroke="#333" stroke-width="1"/>
<line x1="132.5" y1="692.4" x2="132.5" y2="704.3" stroke="#333" stroke-width="1"/>
<line x1="133.0" y1="701.5" x2="301.2" y2="701.5" stroke="#999" stroke-width="1"/>
<line x1="133.0" y1="699.5" x2="301.2" y2="699.5" stroke="#bbb" stroke-width="1"/>
<line x1="205.0" y1="627.4" x2="207.0" y2="627.4" stroke="#333" stroke-width="1.4"/>
<line x1="205.0" y1="639.3" x2="207.0" y2="639.3" stroke="#333" stroke-width="1.4"/>
<line x1="114.6" y1="568.5" x2="132.4" y2="568.5" stroke="#444" stroke-width="1"/>
<line x1="114.6" y1="633.5" x2="132.4" y2="633.5" stroke="#444" stroke-width="1"/>
<line x1="120.5" y1="568.8" x2="120.5" y2="633.2" stroke="#222" stroke-width="1"/>
<polygon points="120.7,568.8 118.0,585.8 123.4,585.8" fill="#111" stroke="none"/>
<polygon points="120.7,633.2 118.0,617.2 123.4,617.2" fill="#111" stroke="none"/>
<text transform="translate(114.2,609.8) rotate(-90)" x="0" y="0" font-size="24.4" textLength="16.5" lengthAdjust="spacingAndGlyphs" fill="#222">C4</text>
<line x1="114.6" y1="692.5" x2="132.4" y2="692.5" stroke="#444" stroke-width="1"/>
<line x1="114.6" y1="704.5" x2="132.4" y2="704.5" stroke="#444" stroke-width="1"/>
<line x1="120.5" y1="659.0" x2="120.5" y2="737.9" stroke="#444" stroke-width="1"/>
<polygon points="120.7,692.4 118.1,675.8 123.3,675.8" fill="#111" stroke="none"/>
<polygon points="120.7,704.3 118.1,720.6 123.3,720.6" fill="#111" stroke="none"/>
<line x1="86.6" y1="737.5" x2="120.7" y2="737.5" stroke="#444" stroke-width="1"/>
<text x="89.3" y="731.8" font-size="24.4" textLength="16.5" lengthAdjust="spacingAndGlyphs" fill="#222">C2</text>
<line x1="132.5" y1="704.3" x2="132.5" y2="743.0" stroke="#444" stroke-width="1"/>
<line x1="301.5" y1="707.2" x2="301.5" y2="743.0" stroke="#444" stroke-width="1"/>
<line x1="132.4" y1="737.5" x2="301.2" y2="737.5" stroke="#222" stroke-width="1"/>
<polygon points="132.4,737.9 150.0,735.2 150.0,740.6" fill="#111" stroke="none"/>
<polygon points="301.2,737.9 283.9,735.2 283.9,740.6" fill="#111" stroke="none"/>
<text x="209.3" y="731.8" font-size="24.4" textLength="17.3" lengthAdjust="spacingAndGlyphs" fill="#222">A2</text>
<line x1="301.5" y1="560.3" x2="301.5" y2="707.2" stroke="#222" stroke-width="1.2"/>
<line x1="351.5" y1="560.3" x2="351.5" y2="707.2" stroke="#333" stroke-width="1"/>
<line x1="362.5" y1="560.3" x2="362.5" y2="707.2" stroke="#333" stroke-width="1"/>
<line x1="365.5" y1="560.3" x2="365.5" y2="707.2" stroke="#333" stroke-width="1"/>
<rect x="301.8" y="560.2" width="60.4" height="3.1" fill="#b4b4b4"/>
<line x1="301.2" y1="560.5" x2="362.0" y2="560.5" stroke="#777" stroke-width="1"/>
<line x1="301.2" y1="563.5" x2="362.0" y2="563.5" stroke="#777" stroke-width="1"/>
<rect x="301.8" y="573.0" width="60.4" height="3.2" fill="#b4b4b4"/>
<line x1="301.2" y1="572.5" x2="362.0" y2="572.5" stroke="#777" stroke-width="1"/>
<line x1="301.2" y1="576.5" x2="362.0" y2="576.5" stroke="#777" stroke-width="1"/>
<rect x="310.5" y="565.5" width="36.0" height="8.0" fill="none" stroke="#222" stroke-width="1.1" rx="4"/>
<line x1="355.5" y1="563.8" x2="355.5" y2="572.5" stroke="#555" stroke-width="1" stroke-dasharray="2,1.2"/>
<line x1="361.5" y1="563.8" x2="361.5" y2="572.5" stroke="#555" stroke-width="1" stroke-dasharray="2,1.2"/>
<circle cx="359.2" cy="569.2" r="0.9" fill="#111" stroke="#111" stroke-width="0.8"/>
<line x1="357.6" y1="569.5" x2="360.8" y2="569.5" stroke="#333" stroke-width="0.8"/>
<line x1="302.2" y1="566.5" x2="304.6" y2="566.5" stroke="#222" stroke-width="1.2"/>
<line x1="302.2" y1="571.5" x2="304.6" y2="571.5" stroke="#222" stroke-width="1.2"/>
<line x1="353.5" y1="564.3" x2="353.5" y2="572.0" stroke="#888" stroke-width="1"/>
<rect x="301.8" y="626.4" width="60.4" height="3.6" fill="#b4b4b4"/>
<line x1="301.2" y1="626.5" x2="362.0" y2="626.5" stroke="#777" stroke-width="1"/>
<line x1="301.2" y1="630.5" x2="362.0" y2="630.5" stroke="#777" stroke-width="1"/>
<rect x="301.8" y="637.6" width="60.4" height="3.0" fill="#b4b4b4"/>
<line x1="301.2" y1="637.5" x2="362.0" y2="637.5" stroke="#777" stroke-width="1"/>
<line x1="301.2" y1="640.5" x2="362.0" y2="640.5" stroke="#777" stroke-width="1"/>
<rect x="310.5" y="630.5" width="36.0" height="8.0" fill="none" stroke="#222" stroke-width="1.1" rx="4"/>
<line x1="355.5" y1="630.5" x2="355.5" y2="637.1" stroke="#555" stroke-width="1" stroke-dasharray="2,1.2"/>
<line x1="361.5" y1="630.5" x2="361.5" y2="637.1" stroke="#555" stroke-width="1" stroke-dasharray="2,1.2"/>
<circle cx="359.2" cy="634.0" r="0.9" fill="#111" stroke="#111" stroke-width="0.8"/>
<line x1="357.6" y1="634.5" x2="360.8" y2="634.5" stroke="#333" stroke-width="0.8"/>
<line x1="302.2" y1="631.5" x2="304.6" y2="631.5" stroke="#222" stroke-width="1.2"/>
<line x1="302.2" y1="636.5" x2="304.6" y2="636.5" stroke="#222" stroke-width="1.2"/>
<line x1="353.5" y1="631.0" x2="353.5" y2="636.6" stroke="#888" stroke-width="1"/>
<rect x="301.8" y="691.0" width="60.4" height="3.2" fill="#b4b4b4"/>
<line x1="301.2" y1="690.5" x2="362.0" y2="690.5" stroke="#777" stroke-width="1"/>
<line x1="301.2" y1="694.5" x2="362.0" y2="694.5" stroke="#777" stroke-width="1"/>
<rect x="301.8" y="704.0" width="60.4" height="3.2" fill="#b4b4b4"/>
<line x1="301.2" y1="704.5" x2="362.0" y2="704.5" stroke="#777" stroke-width="1"/>
<line x1="301.2" y1="707.5" x2="362.0" y2="707.5" stroke="#777" stroke-width="1"/>
<rect x="310.5" y="694.5" width="36.0" height="8.0" fill="none" stroke="#222" stroke-width="1.1" rx="4"/>
<line x1="355.5" y1="694.7" x2="355.5" y2="703.5" stroke="#555" stroke-width="1" stroke-dasharray="2,1.2"/>
<line x1="361.5" y1="694.7" x2="361.5" y2="703.5" stroke="#555" stroke-width="1" stroke-dasharray="2,1.2"/>
<circle cx="359.2" cy="698.4" r="0.9" fill="#111" stroke="#111" stroke-width="0.8"/>
<line x1="357.6" y1="698.5" x2="360.8" y2="698.5" stroke="#333" stroke-width="0.8"/>
<line x1="302.2" y1="695.5" x2="304.6" y2="695.5" stroke="#222" stroke-width="1.2"/>
<line x1="302.2" y1="700.5" x2="304.6" y2="700.5" stroke="#222" stroke-width="1.2"/>
<line x1="353.5" y1="695.2" x2="353.5" y2="703.0" stroke="#888" stroke-width="1"/>
<path d="M351.8,584.5 L315,584.5 Q310,584.5 310,589.5 L310,618.1 Q310,623.1 315,623.1 L351.8,623.1" fill="none" stroke="#444" stroke-width="1" />
<path d="M351.8,584.5 L354,584.5 Q358.5,584.5 358.5,589.5 L358.5,618.1 Q358.5,623.1 354,623.1 L351.8,623.1" fill="none" stroke="#444" stroke-width="1" stroke-dasharray="3,1.4" />
<path d="M351.8,643.9 L315,643.9 Q310,643.9 310,648.9 L310,677.5 Q310,682.5 315,682.5 L351.8,682.5" fill="none" stroke="#444" stroke-width="1" />
<path d="M351.8,643.9 L354,643.9 Q358.5,643.9 358.5,648.9 L358.5,677.5 Q358.5,682.5 354,682.5 L351.8,682.5" fill="none" stroke="#444" stroke-width="1" stroke-dasharray="3,1.4" />
<rect x="362.5" y="596.5" width="2.0" height="8.0" fill="#444" stroke="#222" stroke-width="0.8"/>
<rect x="365.5" y="608.5" width="3.0" height="1.0" fill="none" stroke="#333" stroke-width="1"/>
<rect x="359.5" y="662.5" width="7.0" height="8.0" fill="none" stroke="#222" stroke-width="1"/>
<path d="M361,669 L361.8,665 L363.8,665 L364.6,669" fill="none" stroke="#222" stroke-width="1" />
<rect x="361.5" y="708.5" width="9.0" height="5.0" fill="none" stroke="#222" stroke-width="1"/>
<line x1="362.5" y1="708.0" x2="362.5" y2="713.6" stroke="#333" stroke-width="0.8"/>
<line x1="364.5" y1="708.0" x2="364.5" y2="713.6" stroke="#333" stroke-width="0.8"/>
<line x1="366.5" y1="708.0" x2="366.5" y2="713.6" stroke="#333" stroke-width="0.8"/>
<line x1="368.5" y1="708.0" x2="368.5" y2="713.6" stroke="#333" stroke-width="0.8"/>
<line x1="371.5" y1="531.7" x2="371.5" y2="735.3" stroke="#333" stroke-width="1"/>
<polyline points="371.5,531.7 375.2,531.7 408.5,486.9" fill="none" stroke="#222" stroke-width="1.2"/>
<line x1="408.5" y1="486.5" x2="453.3" y2="486.5" stroke="#222" stroke-width="1.3" stroke-dasharray="9,1,2,1"/>
<line x1="453.3" y1="486.9" x2="486.8" y2="524.3" stroke="#222" stroke-width="1.2"/>
<line x1="486.8" y1="524.3" x2="632.4" y2="524.3" stroke="#222" stroke-width="1.4" stroke-dasharray="2.2,1.1"/>
<line x1="486.8" y1="524.3" x2="486.8" y2="537.5" stroke="#222" stroke-width="1.6" stroke-dasharray="2,1.2"/>
<polyline points="632.4,524.3 666.3,486.2" fill="none" stroke="#222" stroke-width="1.2"/>
<line x1="666.3" y1="486.5" x2="710.6" y2="486.5" stroke="#222" stroke-width="1.2" stroke-dasharray="2.2,1.1"/>
<polyline points="710.6,486.2 743.6,531.4" fill="none" stroke="#222" stroke-width="1.2"/>
<line x1="743.5" y1="531.4" x2="743.5" y2="735.5" stroke="#333" stroke-width="1"/>
<line x1="747.5" y1="531.4" x2="747.5" y2="735.5" stroke="#333" stroke-width="1"/>
<line x1="743.6" y1="531.5" x2="747.3" y2="531.5" stroke="#333" stroke-width="1"/>
<line x1="743.6" y1="735.5" x2="747.3" y2="735.5" stroke="#333" stroke-width="1"/>
<polyline points="744.4,735.5 711.8,780.4" fill="none" stroke="#222" stroke-width="1.2"/>
<line x1="666.3" y1="780.5" x2="711.6" y2="780.5" stroke="#222" stroke-width="1.2" stroke-dasharray="2.2,1.1"/>
<polyline points="666.3,780.4 632.4,743.0" fill="none" stroke="#222" stroke-width="1.2"/>
<line x1="486.8" y1="743.0" x2="632.4" y2="743.0" stroke="#222" stroke-width="1.4" stroke-dasharray="2.2,1.1"/>
<line x1="486.8" y1="731.0" x2="486.8" y2="743.0" stroke="#222" stroke-width="1.6" stroke-dasharray="2,1.2"/>
<polygon points="484.6,729.5 489.0,729.5 486.8,732.5" fill="#222" stroke="#222" stroke-width="1"/>
<line x1="632.4" y1="731.0" x2="632.4" y2="743.0" stroke="#222" stroke-width="1.6" stroke-dasharray="2,1.2"/>
<polygon points="630.2,729.5 634.6,729.5 632.4,732.5" fill="#222" stroke="#222" stroke-width="1"/>
<line x1="486.8" y1="743.0" x2="453.3" y2="780.4" stroke="#222" stroke-width="1.2"/>
<line x1="408.5" y1="780.5" x2="453.3" y2="780.5" stroke="#222" stroke-width="1.3" stroke-dasharray="9,1,2,1"/>
<polyline points="408.5,780.4 374.4,735.3 371.5,735.3" fill="none" stroke="#222" stroke-width="1.2"/>
<line x1="548.5" y1="536.3" x2="548.5" y2="731.0" stroke="#333" stroke-width="1" stroke-dasharray="7.5,2"/>
<line x1="571.5" y1="536.3" x2="571.5" y2="731.0" stroke="#333" stroke-width="1" stroke-dasharray="7.5,2"/>
<line x1="548.4" y1="536.5" x2="571.2" y2="536.5" stroke="#333" stroke-width="1" stroke-dasharray="7.5,2"/>
<line x1="548.4" y1="730.5" x2="571.2" y2="730.5" stroke="#333" stroke-width="1" stroke-dasharray="7.5,2"/>
<line x1="559.5" y1="536.0" x2="559.5" y2="741.5" stroke="#333" stroke-width="1" stroke-dasharray="12,2,2,2"/>
<line x1="559.5" y1="524.3" x2="559.5" y2="536.0" stroke="#222" stroke-width="1.6" stroke-dasharray="2,1.2"/>
<polygon points="557.3,535.0 561.7,535.0 559.5,537.6" fill="#222" stroke="#222" stroke-width="1"/>
<polygon points="557.3,729.8 561.7,729.8 559.5,732.4" fill="#222" stroke="#222" stroke-width="1"/>
<line x1="666.5" y1="537.0" x2="666.5" y2="731.0" stroke="#333" stroke-width="1" stroke-dasharray="7.5,2"/>
<line x1="689.5" y1="537.0" x2="689.5" y2="731.0" stroke="#222" stroke-width="1.3" stroke-dasharray="7.5,2"/>
<line x1="667.0" y1="536.5" x2="689.4" y2="536.5" stroke="#222" stroke-width="1.2" stroke-dasharray="7.5,2"/>
<line x1="667.0" y1="730.5" x2="689.4" y2="730.5" stroke="#222" stroke-width="1.2" stroke-dasharray="7.5,2"/>
<line x1="721.5" y1="536.3" x2="721.5" y2="731.0" stroke="#333" stroke-width="1" stroke-dasharray="7.5,2"/>
<line x1="721.5" y1="536.5" x2="743.6" y2="536.5" stroke="#333" stroke-width="1" stroke-dasharray="7.5,2"/>
<line x1="721.5" y1="730.5" x2="743.6" y2="730.5" stroke="#333" stroke-width="1" stroke-dasharray="7.5,2"/>
<line x1="642.5" y1="553.5" x2="647.5" y2="553.5" stroke="#555" stroke-width="1" stroke-dasharray="1.5,1.5"/>
<rect x="747.5" y="552.5" width="12.0" height="8.0" fill="none" stroke="#222" stroke-width="1"/>
<line x1="750.5" y1="552.6" x2="750.5" y2="560.4" stroke="#333" stroke-width="0.9"/>
<line x1="754.5" y1="552.6" x2="754.5" y2="560.4" stroke="#333" stroke-width="0.9"/>
<line x1="757.5" y1="552.6" x2="757.5" y2="560.4" stroke="#333" stroke-width="0.9"/>
<line x1="747.7" y1="556.5" x2="759.0" y2="556.5" stroke="#444" stroke-width="0.8"/>
<path d="M759,552.6 Q761,556.5 759,560.4" fill="none" stroke="#222" stroke-width="1" />
<rect x="747.5" y="708.5" width="12.0" height="6.0" fill="none" stroke="#222" stroke-width="1"/>
<line x1="750.5" y1="708.0" x2="750.5" y2="714.6" stroke="#333" stroke-width="0.9"/>
<line x1="754.5" y1="708.0" x2="754.5" y2="714.6" stroke="#333" stroke-width="0.9"/>
<line x1="757.5" y1="708.0" x2="757.5" y2="714.6" stroke="#333" stroke-width="0.9"/>
<line x1="747.7" y1="711.5" x2="759.0" y2="711.5" stroke="#444" stroke-width="0.8"/>
<path d="M759,708 Q761,711.3 759,714.6" fill="none" stroke="#222" stroke-width="1" />
<line x1="362.0" y1="633.5" x2="496.0" y2="633.5" stroke="#333" stroke-width="1"/>
<line x1="735.3" y1="633.5" x2="752.0" y2="633.5" stroke="#555" stroke-width="1" stroke-dasharray="6,2,1.5,2"/>
<rect x="377.5" y="611.5" width="71.0" height="44.0" fill="none" stroke="#444" stroke-width="1"/>
<rect x="496.5" y="627.5" width="239.0" height="12.0" fill="none" stroke="#444" stroke-width="1"/>
<line x1="496.5" y1="630.5" x2="735.3" y2="630.5" stroke="#8a8a8a" stroke-width="0.9"/>
<line x1="496.5" y1="634.5" x2="735.3" y2="634.5" stroke="#8a8a8a" stroke-width="0.9"/>
<line x1="496.5" y1="636.5" x2="735.3" y2="636.5" stroke="#8a8a8a" stroke-width="0.9"/>
<line x1="499.5" y1="626.6" x2="499.5" y2="639.4" stroke="#3a3a3a" stroke-width="1"/>
<line x1="504.5" y1="626.6" x2="504.5" y2="639.4" stroke="#3a3a3a" stroke-width="1"/>
<line x1="508.5" y1="626.6" x2="508.5" y2="639.4" stroke="#3a3a3a" stroke-width="1"/>
<line x1="513.5" y1="626.6" x2="513.5" y2="639.4" stroke="#3a3a3a" stroke-width="1"/>
<line x1="517.5" y1="626.6" x2="517.5" y2="639.4" stroke="#3a3a3a" stroke-width="1"/>
<line x1="522.5" y1="626.6" x2="522.5" y2="639.4" stroke="#3a3a3a" stroke-width="1"/>
<line x1="526.5" y1="626.6" x2="526.5" y2="639.4" stroke="#3a3a3a" stroke-width="1"/>
<line x1="531.5" y1="626.6" x2="531.5" y2="639.4" stroke="#3a3a3a" stroke-width="1"/>
<line x1="535.5" y1="626.6" x2="535.5" y2="639.4" stroke="#3a3a3a" stroke-width="1"/>
<line x1="540.5" y1="626.6" x2="540.5" y2="639.4" stroke="#3a3a3a" stroke-width="1"/>
<line x1="544.5" y1="626.6" x2="544.5" y2="639.4" stroke="#3a3a3a" stroke-width="1"/>
<line x1="549.5" y1="626.6" x2="549.5" y2="639.4" stroke="#3a3a3a" stroke-width="1"/>
<line x1="554.5" y1="626.6" x2="554.5" y2="639.4" stroke="#3a3a3a" stroke-width="1"/>
<line x1="558.5" y1="626.6" x2="558.5" y2="639.4" stroke="#3a3a3a" stroke-width="1"/>
<line x1="563.5" y1="626.6" x2="563.5" y2="639.4" stroke="#3a3a3a" stroke-width="1"/>
<line x1="567.5" y1="626.6" x2="567.5" y2="639.4" stroke="#3a3a3a" stroke-width="1"/>
<line x1="572.5" y1="626.6" x2="572.5" y2="639.4" stroke="#3a3a3a" stroke-width="1"/>
<line x1="576.5" y1="626.6" x2="576.5" y2="639.4" stroke="#3a3a3a" stroke-width="1"/>
<line x1="581.5" y1="626.6" x2="581.5" y2="639.4" stroke="#3a3a3a" stroke-width="1"/>
<line x1="585.5" y1="626.6" x2="585.5" y2="639.4" stroke="#3a3a3a" stroke-width="1"/>
<line x1="590.5" y1="626.6" x2="590.5" y2="639.4" stroke="#3a3a3a" stroke-width="1"/>
<line x1="595.5" y1="626.6" x2="595.5" y2="639.4" stroke="#3a3a3a" stroke-width="1"/>
<line x1="599.5" y1="626.6" x2="599.5" y2="639.4" stroke="#3a3a3a" stroke-width="1"/>
<line x1="604.5" y1="626.6" x2="604.5" y2="639.4" stroke="#3a3a3a" stroke-width="1"/>
<line x1="608.5" y1="626.6" x2="608.5" y2="639.4" stroke="#3a3a3a" stroke-width="1"/>
<line x1="613.5" y1="626.6" x2="613.5" y2="639.4" stroke="#3a3a3a" stroke-width="1"/>
<line x1="617.5" y1="626.6" x2="617.5" y2="639.4" stroke="#3a3a3a" stroke-width="1"/>
<line x1="622.5" y1="626.6" x2="622.5" y2="639.4" stroke="#3a3a3a" stroke-width="1"/>
<line x1="626.5" y1="626.6" x2="626.5" y2="639.4" stroke="#3a3a3a" stroke-width="1"/>
<line x1="631.5" y1="626.6" x2="631.5" y2="639.4" stroke="#3a3a3a" stroke-width="1"/>
<line x1="635.5" y1="626.6" x2="635.5" y2="639.4" stroke="#3a3a3a" stroke-width="1"/>
<line x1="640.5" y1="626.6" x2="640.5" y2="639.4" stroke="#3a3a3a" stroke-width="1"/>
<line x1="645.5" y1="626.6" x2="645.5" y2="639.4" stroke="#3a3a3a" stroke-width="1"/>
<line x1="649.5" y1="626.6" x2="649.5" y2="639.4" stroke="#3a3a3a" stroke-width="1"/>
<line x1="654.5" y1="626.6" x2="654.5" y2="639.4" stroke="#3a3a3a" stroke-width="1"/>
<line x1="658.5" y1="626.6" x2="658.5" y2="639.4" stroke="#3a3a3a" stroke-width="1"/>
<line x1="663.5" y1="626.6" x2="663.5" y2="639.4" stroke="#3a3a3a" stroke-width="1"/>
<line x1="667.5" y1="626.6" x2="667.5" y2="639.4" stroke="#3a3a3a" stroke-width="1"/>
<line x1="672.5" y1="626.6" x2="672.5" y2="639.4" stroke="#3a3a3a" stroke-width="1"/>
<line x1="676.5" y1="626.6" x2="676.5" y2="639.4" stroke="#3a3a3a" stroke-width="1"/>
<line x1="681.5" y1="626.6" x2="681.5" y2="639.4" stroke="#3a3a3a" stroke-width="1"/>
<line x1="686.5" y1="626.6" x2="686.5" y2="639.4" stroke="#3a3a3a" stroke-width="1"/>
<line x1="690.5" y1="626.6" x2="690.5" y2="639.4" stroke="#3a3a3a" stroke-width="1"/>
<line x1="695.5" y1="626.6" x2="695.5" y2="639.4" stroke="#3a3a3a" stroke-width="1"/>
<line x1="699.5" y1="626.6" x2="699.5" y2="639.4" stroke="#3a3a3a" stroke-width="1"/>
<line x1="704.5" y1="626.6" x2="704.5" y2="639.4" stroke="#3a3a3a" stroke-width="1"/>
<line x1="708.5" y1="626.6" x2="708.5" y2="639.4" stroke="#3a3a3a" stroke-width="1"/>
<line x1="713.5" y1="626.6" x2="713.5" y2="639.4" stroke="#3a3a3a" stroke-width="1"/>
<line x1="717.5" y1="626.6" x2="717.5" y2="639.4" stroke="#3a3a3a" stroke-width="1"/>
<line x1="722.5" y1="626.6" x2="722.5" y2="639.4" stroke="#3a3a3a" stroke-width="1"/>
<line x1="726.5" y1="626.6" x2="726.5" y2="639.4" stroke="#3a3a3a" stroke-width="1"/>
<line x1="731.5" y1="626.6" x2="731.5" y2="639.4" stroke="#3a3a3a" stroke-width="1"/>
<line x1="735.3" y1="627.0" x2="735.3" y2="640.0" stroke="#222" stroke-width="1.6"/>
<rect x="674.5" y="486.5" width="28.0" height="48.0" fill="none" stroke="#333" stroke-width="1"/>
<line x1="677.5" y1="486.9" x2="677.5" y2="530.9" stroke="#666" stroke-width="1"/>
<line x1="700.5" y1="486.9" x2="700.5" y2="530.9" stroke="#666" stroke-width="1"/>
<line x1="681.2" y1="486.9" x2="681.2" y2="530.9" stroke="#222" stroke-width="1.6"/>
<line x1="696.2" y1="486.9" x2="696.2" y2="530.9" stroke="#222" stroke-width="1.6"/>
<line x1="683.5" y1="487.9" x2="683.5" y2="529.9" stroke="#555" stroke-width="0.8"/>
<line x1="693.5" y1="487.9" x2="693.5" y2="529.9" stroke="#555" stroke-width="0.8"/>
<line x1="675.0" y1="530.5" x2="702.9" y2="530.5" stroke="#222" stroke-width="1.1"/>
<rect x="675.5" y="531.5" width="2.0" height="3.0" fill="none" stroke="#222" stroke-width="1"/>
<rect x="700.5" y="531.5" width="2.0" height="3.0" fill="none" stroke="#222" stroke-width="1"/>
<line x1="679.0" y1="486.9" x2="698.0" y2="486.9" stroke="#111" stroke-width="2.2"/>
<circle cx="683.0" cy="486.4" r="1.3" fill="#111" stroke="#111" stroke-width="1"/>
<circle cx="694.0" cy="486.4" r="1.3" fill="#111" stroke="#111" stroke-width="1"/>
<line x1="681.2" y1="507.5" x2="696.2" y2="507.5" stroke="#333" stroke-width="1"/>
<line x1="681.2" y1="509.5" x2="696.2" y2="509.5" stroke="#333" stroke-width="1"/>
<path d="M684.2,492.5 L685.2,492.5 A2.6,4.9 0 0 1 685.2,502.3 L684.2,502.3 Z" fill="none" stroke="#222" stroke-width="1.1" />
<path d="M693.2,492.5 L692.2,492.5 A2.6,4.9 0 0 0 692.2,502.3 L693.2,502.3 Z" fill="none" stroke="#333" stroke-width="1.1" />
<line x1="683.0" y1="490.3" x2="684.2" y2="491.5" stroke="#333" stroke-width="0.8"/>
<line x1="694.4" y1="490.3" x2="693.2" y2="491.5" stroke="#333" stroke-width="0.8"/>
<line x1="683.0" y1="504.5" x2="684.2" y2="503.3" stroke="#333" stroke-width="0.8"/>
<line x1="694.4" y1="504.5" x2="693.2" y2="503.3" stroke="#333" stroke-width="0.8"/>
<path d="M684.2,514.7 L685.2,514.7 A2.6,4.9 0 0 1 685.2,524.5 L684.2,524.5 Z" fill="none" stroke="#222" stroke-width="1.1" />
<path d="M693.2,514.7 L692.2,514.7 A2.6,4.9 0 0 0 692.2,524.5 L693.2,524.5 Z" fill="none" stroke="#333" stroke-width="1.1" />
<line x1="683.0" y1="512.5" x2="684.2" y2="513.7" stroke="#333" stroke-width="0.8"/>
<line x1="694.4" y1="512.5" x2="693.2" y2="513.7" stroke="#333" stroke-width="0.8"/>
<line x1="683.0" y1="526.7" x2="684.2" y2="525.5" stroke="#333" stroke-width="0.8"/>
<line x1="694.4" y1="526.7" x2="693.2" y2="525.5" stroke="#333" stroke-width="0.8"/>
<circle cx="678.3" cy="498.3" r="1.2" fill="#111" stroke="#111" stroke-width="1"/>
<circle cx="699.6" cy="498.3" r="1.2" fill="#111" stroke="#111" stroke-width="1"/>
<line x1="676.0" y1="498.5" x2="680.6" y2="498.5" stroke="#222" stroke-width="1"/>
<line x1="697.3" y1="498.5" x2="701.9" y2="498.5" stroke="#222" stroke-width="1"/>
<rect x="674.5" y="733.5" width="28.0" height="48.0" fill="none" stroke="#333" stroke-width="1"/>
<line x1="677.5" y1="781.3" x2="677.5" y2="737.3" stroke="#666" stroke-width="1"/>
<line x1="700.5" y1="781.3" x2="700.5" y2="737.3" stroke="#666" stroke-width="1"/>
<line x1="681.2" y1="781.3" x2="681.2" y2="737.3" stroke="#222" stroke-width="1.6"/>
<line x1="696.2" y1="781.3" x2="696.2" y2="737.3" stroke="#222" stroke-width="1.6"/>
<line x1="683.5" y1="780.3" x2="683.5" y2="738.3" stroke="#555" stroke-width="0.8"/>
<line x1="693.5" y1="780.3" x2="693.5" y2="738.3" stroke="#555" stroke-width="0.8"/>
<line x1="675.0" y1="737.5" x2="702.9" y2="737.5" stroke="#222" stroke-width="1.1"/>
<rect x="675.5" y="733.5" width="2.0" height="3.0" fill="none" stroke="#222" stroke-width="1"/>
<rect x="700.5" y="733.5" width="2.0" height="3.0" fill="none" stroke="#222" stroke-width="1"/>
<line x1="679.0" y1="781.3" x2="698.0" y2="781.3" stroke="#111" stroke-width="2.2"/>
<circle cx="683.0" cy="781.8" r="1.3" fill="#111" stroke="#111" stroke-width="1"/>
<circle cx="694.0" cy="781.8" r="1.3" fill="#111" stroke="#111" stroke-width="1"/>
<line x1="681.2" y1="760.5" x2="696.2" y2="760.5" stroke="#333" stroke-width="1"/>
<line x1="681.2" y1="758.5" x2="696.2" y2="758.5" stroke="#333" stroke-width="1"/>
<path d="M684.2,775.7 L685.2,775.7 A2.6,4.9 0 0 0 685.2,765.9 L684.2,765.9 Z" fill="none" stroke="#222" stroke-width="1.1" />
<path d="M693.2,775.7 L692.2,775.7 A2.6,4.9 0 0 1 692.2,765.9 L693.2,765.9 Z" fill="none" stroke="#333" stroke-width="1.1" />
<line x1="683.0" y1="777.9" x2="684.2" y2="776.7" stroke="#333" stroke-width="0.8"/>
<line x1="694.4" y1="777.9" x2="693.2" y2="776.7" stroke="#333" stroke-width="0.8"/>
<line x1="683.0" y1="763.7" x2="684.2" y2="764.9" stroke="#333" stroke-width="0.8"/>
<line x1="694.4" y1="763.7" x2="693.2" y2="764.9" stroke="#333" stroke-width="0.8"/>
<path d="M684.2,753.5 L685.2,753.5 A2.6,4.9 0 0 0 685.2,743.7 L684.2,743.7 Z" fill="none" stroke="#222" stroke-width="1.1" />
<path d="M693.2,753.5 L692.2,753.5 A2.6,4.9 0 0 1 692.2,743.7 L693.2,743.7 Z" fill="none" stroke="#333" stroke-width="1.1" />
<line x1="683.0" y1="755.7" x2="684.2" y2="754.5" stroke="#333" stroke-width="0.8"/>
<line x1="694.4" y1="755.7" x2="693.2" y2="754.5" stroke="#333" stroke-width="0.8"/>
<line x1="683.0" y1="741.5" x2="684.2" y2="742.7" stroke="#333" stroke-width="0.8"/>
<line x1="694.4" y1="741.5" x2="693.2" y2="742.7" stroke="#333" stroke-width="0.8"/>
<circle cx="678.3" cy="769.9" r="1.2" fill="#111" stroke="#111" stroke-width="1"/>
<circle cx="699.6" cy="769.9" r="1.2" fill="#111" stroke="#111" stroke-width="1"/>
<line x1="676.0" y1="769.5" x2="680.6" y2="769.5" stroke="#222" stroke-width="1"/>
<line x1="697.3" y1="769.5" x2="701.9" y2="769.5" stroke="#222" stroke-width="1"/>
<line x1="688.5" y1="481.2" x2="688.5" y2="788.0" stroke="#444" stroke-width="1" stroke-dasharray="14,2,2,2"/>
<line x1="667.0" y1="488.0" x2="667.0" y2="537.0" stroke="#1a1a1a" stroke-width="2.5" stroke-dasharray="2.8,1.3"/>
<line x1="667.0" y1="731.0" x2="667.0" y2="780.0" stroke="#1a1a1a" stroke-width="2.5" stroke-dasharray="2.8,1.3"/>
<line x1="710.6" y1="488.0" x2="710.6" y2="537.0" stroke="#1a1a1a" stroke-width="2.5" stroke-dasharray="2.8,1.3"/>
<line x1="710.6" y1="731.0" x2="710.6" y2="780.0" stroke="#1a1a1a" stroke-width="2.5" stroke-dasharray="2.8,1.3"/>
<polygon points="664.6,535.2 669.4,535.2 667.0,538.0" fill="#222" stroke="#222" stroke-width="1"/>
<polygon points="664.6,729.6 669.4,729.6 667.0,732.4" fill="#222" stroke="#222" stroke-width="1"/>
<polyline points="655.0,519.4 655.0,505.0 657.6,497.3 662.0,499.5 664.5,499.5 664.5,519.4 655.0,519.4" fill="none" stroke="#333" stroke-width="1"/>
<line x1="649.5" y1="504.5" x2="655.0" y2="504.5" stroke="#333" stroke-width="1"/>
<line x1="651.0" y1="512.5" x2="655.0" y2="512.5" stroke="#333" stroke-width="1"/>
<circle cx="650.3" cy="505.2" r="0.9" fill="#222" stroke="#222" stroke-width="1"/>
<circle cx="650.3" cy="511.0" r="0.9" fill="#222" stroke="#222" stroke-width="1"/>
<line x1="658.6" y1="505.8" x2="659.4" y2="505.2" stroke="#333" stroke-width="1"/>
<line x1="666.8" y1="497.6" x2="666.8" y2="519.4" stroke="#111" stroke-width="2.4"/>
<rect x="664.5" y="499.5" width="2.0" height="19.0" fill="none" stroke="#333" stroke-width="1"/>
<path d="M674.5,502.5 L671,502.5 Q668.6,508.5 671,514.5 L674.5,514.5" fill="none" stroke="#222" stroke-width="1.3" />
<path d="M674.5,505 L672.5,505 Q671.4,508.5 672.5,512 L674.5,512" fill="none" stroke="#444" stroke-width="1" />
<line x1="668.0" y1="499.5" x2="678.0" y2="499.5" stroke="#333" stroke-width="1"/>
<line x1="668.0" y1="517.5" x2="675.0" y2="517.5" stroke="#333" stroke-width="1"/>
<line x1="668.0" y1="499.0" x2="675.0" y2="499.0" stroke="#111" stroke-width="1.8"/>
<line x1="649.0" y1="508.5" x2="796.4" y2="508.5" stroke="#444" stroke-width="1"/>
<line x1="675.0" y1="759.5" x2="796.4" y2="759.5" stroke="#444" stroke-width="1"/>
<line x1="791.5" y1="508.3" x2="791.5" y2="759.1" stroke="#222" stroke-width="1"/>
<polygon points="791.5,508.3 788.8,524.8 794.2,524.8" fill="#111" stroke="none"/>
<polygon points="791.5,759.1 788.8,741.6 794.2,741.6" fill="#111" stroke="none"/>
<text transform="translate(784.8,642.6) rotate(-90)" x="0" y="0" font-size="24.4" textLength="17.7" lengthAdjust="spacingAndGlyphs" fill="#222">E2</text>
<line x1="694.0" y1="485.5" x2="841.6" y2="485.5" stroke="#444" stroke-width="1"/>
<line x1="694.0" y1="782.5" x2="841.6" y2="782.5" stroke="#444" stroke-width="1"/>
<line x1="836.5" y1="485.7" x2="836.5" y2="782.2" stroke="#222" stroke-width="1"/>
<polygon points="836.3,485.7 833.6,503.2 839.0,503.2" fill="#111" stroke="none"/>
<polygon points="836.3,782.2 833.6,765.7 839.0,765.7" fill="#111" stroke="none"/>
<text transform="translate(830.0,641.7) rotate(-90)" x="0" y="0" font-size="24.4" textLength="16.8" lengthAdjust="spacingAndGlyphs" fill="#222">L2</text>
<line x1="359.5" y1="708.0" x2="359.5" y2="805.0" stroke="#444" stroke-width="1"/>
<line x1="760.5" y1="714.6" x2="760.5" y2="804.7" stroke="#444" stroke-width="1"/>
<line x1="359.4" y1="799.5" x2="760.0" y2="799.5" stroke="#222" stroke-width="1"/>
<polygon points="359.4,799.3 376.7,796.6 376.7,802.0" fill="#111" stroke="none"/>
<polygon points="760.0,799.3 743.0,796.6 743.0,802.0" fill="#111" stroke="none"/>
<text x="551.6" y="793.2" font-size="24.4" textLength="15.1" lengthAdjust="spacingAndGlyphs" fill="#222">L1</text>
<ellipse cx="428.7" cy="633.6" rx="5.7" ry="5.3" fill="none" stroke="#222" stroke-width="1.1"/>
<path d="M433.6,622.4 L438.4,623.4 L438.4,644 L433.6,645 M434.2,626 Q436.8,633.6 434.2,641.2" fill="none" stroke="#333" stroke-width="1" />
<line x1="436.5" y1="626.0" x2="436.5" y2="641.0" stroke="#222" stroke-width="1.2" stroke-dasharray="2,1.2"/>
<path d="M437.6,622.6 L425.6,617 L420.6,618.8 L416.6,627.4 L419.6,628.6 L422.4,622.6 L426.6,621.8 L429.4,625.6 L433.6,625.4" fill="none" stroke="#222" stroke-width="1.2" />
<path d="M437.6,644.6 L426.4,650.4 L420.8,648.4 L416.8,639.8 L419.8,638.6 L422.6,644.6 L427,645.4 L429.6,641.6 L433.6,641.8" fill="none" stroke="#222" stroke-width="1.2" />
<line x1="451.2" y1="656.1" x2="495.3" y2="656.1" stroke="#111" stroke-width="1.6"/>
<line x1="494.5" y1="626.9" x2="494.5" y2="656.1" stroke="#222" stroke-width="1"/>
<line x1="496.5" y1="615.5" x2="496.5" y2="656.7" stroke="#111" stroke-width="1.7"/>
<rect x="494.5" y="654.5" width="3.0" height="5.0" fill="none" stroke="#333" stroke-width="1"/>
<line x1="438.6" y1="625.5" x2="476.0" y2="625.5" stroke="#333" stroke-width="1"/>
<line x1="476.5" y1="625.8" x2="476.5" y2="634.4" stroke="#333" stroke-width="1"/>
<line x1="475.9" y1="634.4" x2="494.2" y2="634.4" stroke="#111" stroke-width="1.8"/>
<line x1="468.4" y1="646.5" x2="494.2" y2="646.5" stroke="#444" stroke-width="1"/>
<line x1="468.4" y1="650.5" x2="494.2" y2="650.5" stroke="#444" stroke-width="1"/>
<line x1="438.5" y1="625.8" x2="438.5" y2="650.0" stroke="#333" stroke-width="1"/>
<line x1="438.6" y1="650.5" x2="451.0" y2="650.5" stroke="#333" stroke-width="1"/>
<line x1="451.2" y1="608.6" x2="451.2" y2="656.1" stroke="#111" stroke-width="1.9"/>
<circle cx="461.5" cy="621.2" r="5.7" fill="none" stroke="#1a1a1a" stroke-width="1.3"/>
<circle cx="461.5" cy="621.2" r="3.9" fill="none" stroke="#333" stroke-width="1"/>
<circle cx="461.5" cy="621.2" r="2.2" fill="none" stroke="#222" stroke-width="1.1"/>
<line x1="454.0" y1="621.5" x2="469.0" y2="621.5" stroke="#333" stroke-width="0.9"/>
<line x1="452.0" y1="617.5" x2="457.0" y2="617.5" stroke="#333" stroke-width="1"/>
<circle cx="477.8" cy="621.8" r="3.0" fill="none" stroke="#1a1a1a" stroke-width="1.3"/>
<circle cx="477.8" cy="621.8" r="1.2" fill="none" stroke="#222" stroke-width="1"/>
<line x1="477.8" y1="616.6" x2="477.8" y2="618.8" stroke="#111" stroke-width="1.8"/>
<line x1="467.5" y1="621.5" x2="474.6" y2="621.5" stroke="#333" stroke-width="1" stroke-dasharray="2.4,1.2"/>
<circle cx="490.8" cy="621.5" r="3.7" fill="none" stroke="#333" stroke-width="1.2"/>
<circle cx="498.2" cy="621.5" r="3.7" fill="none" stroke="#111" stroke-width="1.5"/>
<rect x="493.5" y="618.5" width="3.0" height="6.0" fill="#222" stroke="#111" stroke-width="0.8"/>
<line x1="488.5" y1="618.0" x2="488.5" y2="625.0" stroke="#555" stroke-width="0.8"/>
<line x1="491.5" y1="625.0" x2="491.5" y2="634.0" stroke="#333" stroke-width="1"/>
<rect x="452.4" y="626.4" width="14.0" height="10.0" fill="none" stroke="#111" stroke-width="1.4"/>
<rect x="455.5" y="628.5" width="7.0" height="6.0" fill="#555" stroke="#111" stroke-width="1"/>
<path d="M444.6,629.4 L452,629.4 M444.6,633.6 L476,633.6 M444.6,637.6 L452,637.6 M466.4,629 L475,629 M466.4,631.4 L475,631.4 M466.4,637.4 L473,637.4" fill="none" stroke="#111" stroke-width="1.5" />
<path d="M446.4,626.4 L446.4,650 M449,627 L449,640 M455.4,625.8 L455.4,641 M459.2,625.8 L459.2,641 M463,625.8 L463,641 M466.4,625.8 L466.4,641 M470,627 L470,640 M473.4,627 L473.4,646" fill="none" stroke="#222" stroke-width="1.1" />
<path d="M440,631.6 L444,631.6 M440,635.6 L444,635.6" fill="none" stroke="#222" stroke-width="1.4" />
<rect x="471.5" y="627.5" width="4.0" height="5.0" fill="#444" stroke="#111" stroke-width="1"/>
<rect x="471.5" y="640.5" width="3.0" height="5.0" fill="#555" stroke="#222" stroke-width="1"/>
<path d="M444.6,640 L449,644 L449,650 M446,645 L441.4,650" fill="none" stroke="#222" stroke-width="1.1" />
<line x1="452.4" y1="641.6" x2="468.2" y2="641.6" stroke="#111" stroke-width="1.7"/>
<line x1="452.8" y1="644.2" x2="467.8" y2="644.2" stroke="#111" stroke-width="1.7"/>
<line x1="452.4" y1="646.8" x2="468.2" y2="646.8" stroke="#111" stroke-width="1.7"/>
<line x1="453.4" y1="649.4" x2="467.2" y2="649.4" stroke="#111" stroke-width="1.7"/>
<line x1="452.4" y1="652.0" x2="468.2" y2="652.0" stroke="#111" stroke-width="1.7"/>
<line x1="452.5" y1="640.4" x2="452.5" y2="655.0" stroke="#222" stroke-width="1"/>
<line x1="468.5" y1="640.4" x2="468.5" y2="655.0" stroke="#222" stroke-width="1"/>
<path d="M444.6,655 L442.8,659 L442.6,661.9 L469.6,661.9 L469.2,658 L468.4,655" fill="none" stroke="#222" stroke-width="1.1" />
<line x1="443.0" y1="660.9" x2="469.4" y2="660.9" stroke="#111" stroke-width="1.7"/>
<line x1="452.6" y1="657.5" x2="468.8" y2="657.5" stroke="#333" stroke-width="1"/>
<line x1="454.5" y1="656.0" x2="454.5" y2="662.0" stroke="#333" stroke-width="1"/>
<line x1="466.5" y1="656.0" x2="466.5" y2="660.0" stroke="#333" stroke-width="1"/>
</g>
</svg>
</body></html>
